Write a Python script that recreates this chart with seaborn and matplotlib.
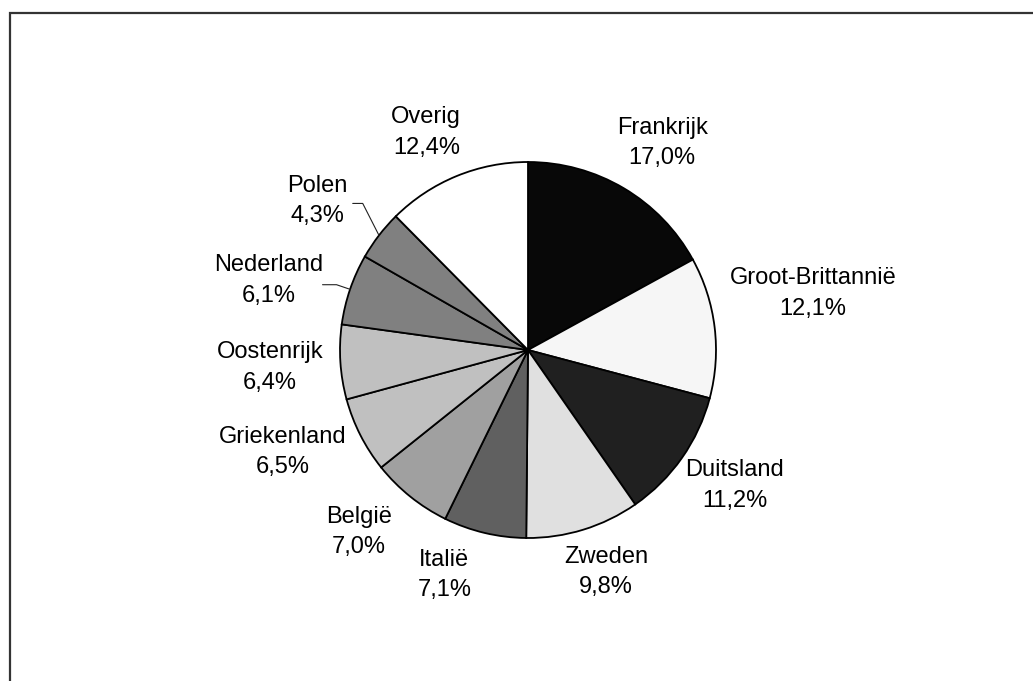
import matplotlib
matplotlib.use("Agg")
import matplotlib.pyplot as plt
import numpy as np
import seaborn as sns

sns.set_theme(style="white")
plt.rcParams['font.family'] = ['Liberation Sans', 'DejaVu Sans']

countries = ['Frankrijk', 'Groot-Brittannië', 'Duitsland', 'Zweden', 'Italië',
             'België', 'Griekenland', 'Oostenrijk', 'Nederland', 'Polen', 'Overig']
shares = [17.0, 12.1, 11.2, 9.8, 7.1, 7.0, 6.5, 6.4, 6.1, 4.3, 12.4]

greys = ['#080808', '#f6f6f6', '#202020', '#e0e0e0', '#606060', '#a0a0a0',
         '#c0c0c0', '#c0c0c0', '#808080', '#808080', '#ffffff']

# label distance (in pie radii) and small angle nudges, excel-like placement
label_dist = [1.312, 1.546, 1.314, 1.253, 1.276, 1.321, 1.414, 1.376, 1.43, 1.371, 1.278]
label_nudge = [-2.3, 4.3, 1.8, 2.3, -7.1, -4.1, -4.4, 0.2, 3.8, 2.3, 2.7]
leaders = {'Nederland': (1.076, 0.0, 14), 'Polen': (1.175, -4.0, 10)}

W, H = 1033, 681
fig = plt.figure(figsize=(W / 100, H / 100), dpi=100)
fig.patch.set_facecolor('white')

cx, cy, R = 528, 350, 188
ax = fig.add_axes([(cx - R) / W, (H - cy - R) / H, 2 * R / W, 2 * R / H])
wedges, _ = ax.pie(shares, colors=greys, startangle=90, counterclock=False,
                   wedgeprops=dict(edgecolor='black', linewidth=1.3),
                   radius=1.0)
ax.set_xlim(-1, 1)
ax.set_ylim(-1, 1)
ax.set_aspect('equal')
ax.axis('off')

fmt = lambda v: ('%.1f%%' % v).replace('.', ',')
cum = np.cumsum([0] + shares[:-1])
for i, (name, v) in enumerate(zip(countries, shares)):
    mid = 90 - (cum[i] + v / 2) / sum(shares) * 360
    ang = np.deg2rad(mid + label_nudge[i])
    d = label_dist[i]
    ax.text(d * np.cos(ang), d * np.sin(ang), name + '\n' + fmt(v),
            ha='center', va='center', fontsize=17, linespacing=1.5,
            color='black', clip_on=False)
    if name in leaders:
        kr, kd, hl = leaders[name]
        a0 = np.deg2rad(mid)
        a1 = np.deg2rad(mid + kd)
        x0, y0 = np.cos(a0), np.sin(a0)
        x1, y1 = kr * np.cos(a1), kr * np.sin(a1)
        x2 = x1 - hl / R
        ax.plot([x0, x1, x2], [y0, y1, y1], color='#222222', lw=0.8,
                clip_on=False)

# outer frame (cropped at right and bottom)
frame = plt.Rectangle((10 / W, -0.2), 2.0, (H - 13) / H + 0.2,
                      transform=fig.transFigure, fill=False,
                      edgecolor='#333333', linewidth=1.6)
fig.patches.append(frame)

fig.savefig('out.png', dpi=100, facecolor='white')
